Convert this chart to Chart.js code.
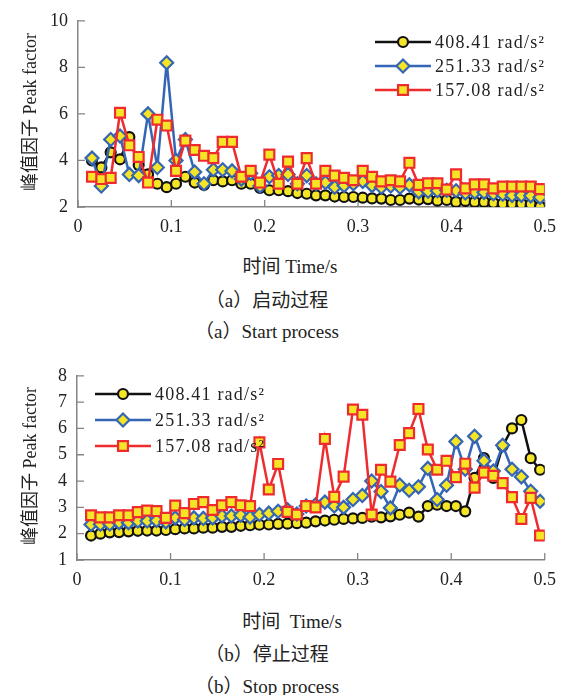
<!DOCTYPE html>
<html>
<head>
<meta charset="utf-8">
<script src="https://cdn.jsdelivr.net/npm/chart.js@4.4.1/dist/chart.umd.min.js"></script>
<style>
  body { margin: 0; background: #fff; width: 565px; height: 695px; position: relative; overflow: hidden;
         font-family: "Liberation Serif", "Noto Sans CJK SC", serif; color: #222; }
  .box { position: absolute; left: 0; width: 565px; height: 245px; }
  .t { position: absolute; white-space: nowrap; font-size: 19px; transform: translate(-50%, -50%); }
  .yt { font-size: 18px; transform: translate(-50%, -50%) rotate(-90deg); }
</style>
</head>
<body>
<div class="box" style="top:0"><canvas id="chart-start"></canvas></div>
<div class="box" style="top:355px"><canvas id="chart-stop"></canvas></div>

<div class="t yt" style="left:28px;top:112px">峰值因子 Peak factor</div>
<div class="t" style="left:290px;top:264px">时间 Time/s</div>
<div class="t" style="left:267px;top:298px">（a）启动过程</div>
<div class="t" style="left:267px;top:329px">（a）Start process</div>

<div class="t yt" style="left:28px;top:466px">峰值因子 Peak factor</div>
<div class="t" style="left:292px;top:619px">时间&nbsp;&nbsp;Time/s</div>
<div class="t" style="left:267px;top:652px">（b）停止过程</div>
<div class="t" style="left:267px;top:684px">（b）Stop process</div>

<script>
// sample times (s)
var times = [0.015, 0.025, 0.035, 0.045, 0.055, 0.065, 0.075, 0.085, 0.095, 0.105,
             0.115, 0.125, 0.135, 0.145, 0.155, 0.165, 0.175, 0.185, 0.195, 0.205,
             0.215, 0.225, 0.235, 0.245, 0.255, 0.265, 0.275, 0.285, 0.295, 0.305,
             0.315, 0.325, 0.335, 0.345, 0.355, 0.365, 0.375, 0.385, 0.395, 0.405,
             0.415, 0.425, 0.435, 0.445, 0.455, 0.465, 0.475, 0.485, 0.495];

var seriesLabels = ["408.41 rad/s²", "251.33 rad/s²", "157.08 rad/s²"];

// (a) start process
var startBlack = [4.0, 3.7, 4.35, 4.05, 5.0, 3.8, 3.4, 3.0, 2.85, 3.0,
                  3.3, 3.05, 2.95, 3.15, 3.1, 3.15, 3.0, 3.0, 2.82, 2.72,
                  2.72, 2.68, 2.6, 2.57, 2.5, 2.5, 2.45, 2.43, 2.43, 2.4,
                  2.37, 2.36, 2.3, 2.3, 2.36, 2.32, 2.34, 2.27, 2.3, 2.22,
                  2.26, 2.22, 2.22, 2.18, 2.15, 2.15, 2.14, 2.12, 2.02];
var startBlue = [4.1, 2.9, 4.9, 5.05, 3.4, 3.35, 6.0, 3.7, 8.2, 4.0,
                 4.9, 3.5, 3.0, 3.6, 3.6, 3.55, 3.2, 3.45, 2.9, 3.3,
                 3.35, 3.4, 3.0, 3.35, 3.0, 3.05, 2.85, 2.92, 3.0, 3.1,
                 2.92, 2.85, 2.9, 2.85, 2.95, 2.65, 2.68, 2.7, 2.72, 2.7,
                 2.6, 2.63, 2.63, 2.57, 2.55, 2.5, 2.5, 2.48, 2.42];
var startRed = [3.3, 3.2, 3.25, 6.05, 4.65, 4.15, 3.05, 5.75, 5.5, 3.55,
                4.85, 4.45, 4.2, 4.1, 4.8, 4.8, 3.3, 3.55, 3.05, 4.25,
                3.0, 3.95, 3.0, 4.1, 3.0, 3.55, 3.35, 3.25, 3.15, 3.55,
                3.3, 3.1, 3.15, 3.1, 3.9, 2.95, 3.02, 3.02, 2.75, 3.4,
                2.8, 2.97, 2.97, 2.8, 2.88, 2.88, 2.88, 2.88, 2.77];

// (b) stop process
var stopBlack = [1.93, 2.0, 2.05, 2.06, 2.09, 2.11, 2.12, 2.12, 2.14, 2.17,
                 2.2, 2.2, 2.23, 2.23, 2.26, 2.26, 2.3, 2.32, 2.34, 2.35,
                 2.37, 2.38, 2.4, 2.42, 2.47, 2.5, 2.53, 2.56, 2.58, 2.6,
                 2.65, 2.62, 2.66, 2.72, 2.8, 2.65, 3.05, 3.1, 3.05, 3.05,
                 2.85, 4.12, 4.87, 4.12, 5.33, 6.0, 6.32, 4.87, 4.43];
var stopBlue = [2.35, 2.36, 2.37, 2.42, 2.42, 2.48, 2.48, 2.5, 2.45, 2.6,
                2.54, 2.6, 2.58, 2.6, 2.67, 2.67, 2.7, 2.63, 2.73, 2.78,
                2.85, 2.91, 2.75, 3.05, 3.1, 3.2, 3.05, 3.0, 3.3, 3.45,
                4.0, 3.6, 2.98, 3.85, 3.65, 3.78, 4.48, 3.3, 3.84, 5.5,
                4.45, 5.7, 4.77, 4.38, 5.36, 4.45, 4.16, 3.61, 3.23];
var stopRed = [2.7, 2.62, 2.62, 2.7, 2.7, 2.82, 2.88, 2.86, 2.6, 3.07,
               2.78, 3.13, 3.2, 2.9, 3.08, 3.2, 3.08, 3.05, 5.47, 3.68,
               4.65, 2.83, 2.73, 3.05, 3.0, 5.6, 3.4, 4.17, 6.72, 6.52,
               2.73, 4.43, 3.98, 5.37, 5.82, 6.74, 5.2, 4.43, 4.77, 4.15,
               4.66, 3.75, 4.32, 4.2, 3.92, 3.39, 2.56, 3.36, 1.93];

var xTicks = [0, 0.1, 0.2, 0.3, 0.4, 0.5];
var startYTicks = [2, 4, 6, 8, 10];
var stopYTicks = [1, 2, 3, 4, 5, 6, 7, 8];

var AXIS = "#858585";
var YELLOW = "#f4e526";
var FONT = "'Liberation Serif', serif";

function pts(vals) {
  return times.map(function (t, i) { return { x: t, y: vals[i] }; });
}

function makeDatasets(black, blue, red) {
  return [
    { label: seriesLabels[0], data: pts(black), borderColor: "#111", borderWidth: 2.5,
      pointStyle: "circle", pointRadius: 5, pointBorderWidth: 2.2,
      pointBackgroundColor: YELLOW, pointBorderColor: "#111", order: 3 },
    { label: seriesLabels[1], data: pts(blue), borderColor: "#3565b5", borderWidth: 2.5,
      pointStyle: "rectRot", pointRadius: 6.5, pointBorderWidth: 2.2,
      pointBackgroundColor: YELLOW, pointBorderColor: "#3565b5", order: 2 },
    { label: seriesLabels[2], data: pts(red), borderColor: "#ee2b2e", borderWidth: 2.5,
      pointStyle: "rect", pointRadius: 7, pointBorderWidth: 2.2,
      pointBackgroundColor: YELLOW, pointBorderColor: "#ee2b2e", order: 1 }
  ];
}

// short tick marks pointing into the plot
var innerTicks = {
  id: "innerTicks",
  beforeDatasetsDraw: function (chart) {
    var ctx = chart.ctx, a = chart.chartArea, sx = chart.scales.x, sy = chart.scales.y;
    ctx.save();
    ctx.strokeStyle = AXIS;
    ctx.lineWidth = 1.3;
    ctx.beginPath();
    sx.ticks.forEach(function (t) {
      var p = sx.getPixelForValue(t.value);
      ctx.moveTo(p, a.bottom); ctx.lineTo(p, a.bottom - 7);
    });
    sy.ticks.forEach(function (t) {
      var p = sy.getPixelForValue(t.value);
      ctx.moveTo(a.left, p); ctx.lineTo(a.left + 7, p);
    });
    ctx.stroke();
    ctx.restore();
  }
};

// legend drawn inside the plot at a fixed place
var innerLegend = {
  id: "innerLegend",
  afterDraw: function (chart, args, opts) {
    var ctx = chart.ctx;
    chart.data.datasets.forEach(function (ds, i) {
      var y = opts.y + i * opts.gap;
      ctx.save();
      ctx.strokeStyle = ds.borderColor;
      ctx.lineWidth = ds.borderWidth;
      ctx.beginPath();
      ctx.moveTo(opts.x, y);
      ctx.lineTo(opts.x + opts.len, y);
      ctx.stroke();
      ctx.fillStyle = ds.pointBackgroundColor;
      ctx.strokeStyle = ds.pointBorderColor;
      ctx.lineWidth = ds.pointBorderWidth;
      Chart.helpers.drawPoint(ctx, { pointStyle: ds.pointStyle, radius: ds.pointRadius,
        borderWidth: ds.pointBorderWidth }, opts.x + opts.len / 2, y);
      ctx.fillStyle = "#222";
      ctx.font = "18px " + FONT;
      if ("letterSpacing" in ctx) ctx.letterSpacing = "1.2px";
      ctx.textBaseline = "middle";
      ctx.fillText(ds.label, opts.x + opts.len + 4, y + 1);
      ctx.restore();
    });
  }
};

function makeChart(id, datasets, yTicks, pad, axisW, axisH, legend) {
  var canvas = document.getElementById(id);
  return new Chart(canvas.getContext("2d"), {
    type: "line",
    data: { datasets: datasets },
    plugins: [innerTicks, innerLegend],
    options: {
      responsive: true,
      maintainAspectRatio: false,
      animation: false,
      layout: { padding: pad },
      plugins: { legend: { display: false }, tooltip: { enabled: false }, innerLegend: legend },
      scales: {
        x: {
          type: "linear",
          min: xTicks[0], max: xTicks[xTicks.length - 1],
          afterFit: function (s) { s.height = axisH; },
          afterBuildTicks: function (s) { s.ticks = xTicks.map(function (v) { return { value: v }; }); },
          grid: { display: true, drawOnChartArea: false, drawTicks: false },
          border: { display: true, color: AXIS, width: 1.5 },
          ticks: { color: "#222", padding: 9, font: { family: FONT, size: 18 },
                   callback: function (v) { return String(v); } }
        },
        y: {
          min: yTicks[0], max: yTicks[yTicks.length - 1],
          afterFit: function (s) { s.width = axisW; },
          afterBuildTicks: function (s) { s.ticks = yTicks.map(function (v) { return { value: v }; }); },
          grid: { display: true, drawOnChartArea: false, drawTicks: false },
          border: { display: true, color: AXIS, width: 1.5 },
          ticks: { color: "#222", padding: 10, font: { family: FONT, size: 18 } }
        }
      }
    }
  });
}

makeChart("chart-start", makeDatasets(startBlack, startBlue, startRed), startYTicks,
  { top: 16, right: 20, left: 0, bottom: 0 }, 78, 38, { x: 375, y: 42, gap: 24, len: 56 });
makeChart("chart-stop", makeDatasets(stopBlack, stopBlue, stopRed), stopYTicks,
  { top: 16, right: 16, left: 0, bottom: 0 }, 77, 40, { x: 95, y: 39, gap: 26, len: 56 });
</script>
</body>
</html>
